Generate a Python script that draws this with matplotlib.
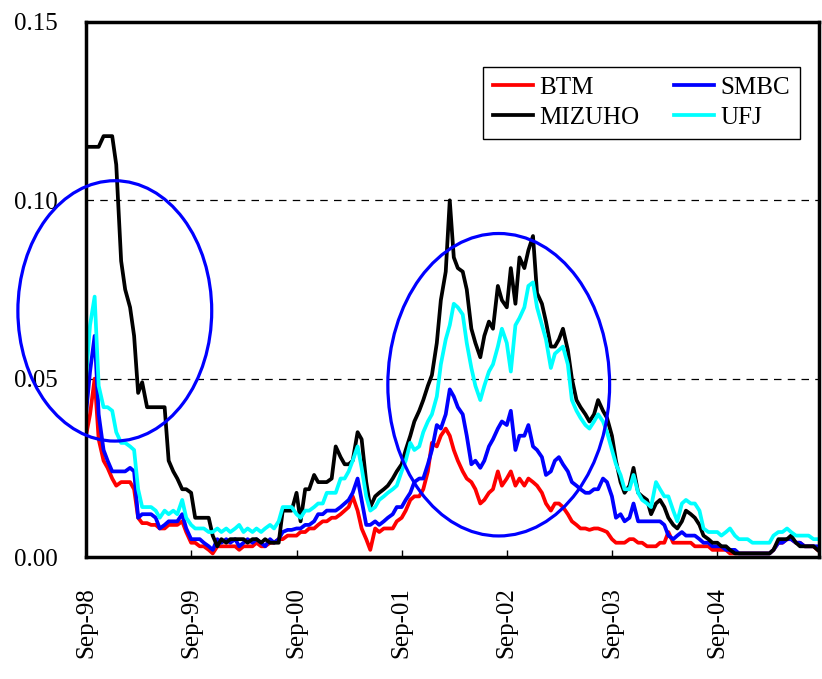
import matplotlib
matplotlib.use('Agg')
import matplotlib.pyplot as plt
import matplotlib.dates as mdates
from matplotlib.patches import Ellipse
import pandas as pd

# ---------------- data (semi-monthly observations, Sep-1998 .. Aug-2005) ----------------
dates = pd.date_range('1998-09-01', periods=168, freq='SMS')

btm = [0.034,0.040,0.050,0.033,0.027,0.025,0.022,0.020,0.021,0.021,
       0.021,0.019,0.011,0.0095,0.0095,0.009,0.009,0.008,0.008,0.009,
       0.009,0.009,0.010,0.007,0.004,0.004,0.003,0.003,0.002,0.001,
       0.003,0.003,0.003,0.003,0.003,0.002,0.003,0.003,0.003,0.004,
       0.003,0.003,0.004,0.004,0.005,0.005,0.006,0.006,0.006,0.007,
       0.007,0.008,0.008,0.009,0.010,0.010,0.011,0.011,0.012,0.013,
       0.014,0.017,0.013,0.008,0.005,0.002,0.008,0.007,0.008,0.008,
       0.008,0.010,0.011,0.013,0.016,0.017,0.017,0.019,0.024,0.032,
       0.031,0.034,0.036,0.034,0.030,0.027,0.024,0.022,0.021,0.019,
       0.015,0.016,0.018,0.019,0.024,0.020,0.022,0.024,0.020,0.022,
       0.020,0.022,0.021,0.020,0.018,0.015,0.013,0.015,0.015,0.014,
       0.012,0.010,0.009,0.008,0.008,0.0076,0.008,0.008,0.0075,0.007,
       0.005,0.004,0.004,0.004,0.005,0.005,0.004,0.004,0.003,0.003,
       0.003,0.004,0.004,0.007,0.004,0.004,0.004,0.004,0.004,0.003,
       0.003,0.003,0.003,0.002,0.002,0.002,0.002,0.001,0.001,0.001,
       0.001,0.001,0.001,0.001,0.001,0.001,0.001,0.002,0.004,0.004,
       0.005,0.005,0.004,0.004,0.003,0.003,0.003,0.002]

smbc = [0.040,0.052,0.062,0.040,0.030,0.027,0.024,0.024,0.024,0.024,
        0.025,0.024,0.011,0.012,0.012,0.012,0.011,0.008,0.009,0.010,
        0.010,0.010,0.012,0.008,0.005,0.005,0.005,0.004,0.003,0.002,
        0.005,0.004,0.005,0.004,0.005,0.003,0.004,0.005,0.004,0.005,
        0.004,0.003,0.005,0.004,0.005,0.007,0.0076,0.0076,0.008,0.008,
        0.009,0.009,0.010,0.012,0.012,0.013,0.013,0.013,0.014,0.015,
        0.016,0.018,0.022,0.016,0.009,0.009,0.010,0.009,0.010,0.011,
        0.012,0.014,0.014,0.016,0.018,0.021,0.022,0.022,0.026,0.030,
        0.037,0.036,0.040,0.047,0.045,0.042,0.040,0.034,0.026,0.027,
        0.025,0.027,0.031,0.033,0.036,0.038,0.037,0.041,0.030,0.034,
        0.034,0.037,0.031,0.030,0.028,0.023,0.024,0.027,0.028,0.026,
        0.024,0.021,0.020,0.019,0.018,0.018,0.019,0.019,0.022,0.021,
        0.017,0.011,0.012,0.010,0.011,0.015,0.010,0.010,0.010,0.010,
        0.010,0.010,0.009,0.006,0.005,0.006,0.007,0.006,0.006,0.006,
        0.005,0.004,0.004,0.003,0.003,0.003,0.002,0.002,0.002,0.001,
        0.001,0.001,0.001,0.001,0.001,0.001,0.001,0.002,0.004,0.004,
        0.005,0.005,0.004,0.004,0.003,0.003,0.003,0.003]

mizuho = [0.115,0.115,0.115,0.115,0.118,0.118,0.118,0.110,0.083,0.075,
          0.070,0.062,0.046,0.049,0.042,0.042,0.042,0.042,0.042,0.027,
          0.024,0.022,0.019,0.019,0.018,0.011,0.011,0.011,0.011,0.006,
          0.003,0.005,0.004,0.005,0.005,0.005,0.005,0.004,0.005,0.005,
          0.004,0.005,0.004,0.004,0.004,0.013,0.013,0.013,0.018,0.010,
          0.019,0.019,0.023,0.021,0.021,0.021,0.022,0.031,0.028,0.026,
          0.026,0.027,0.035,0.033,0.021,0.014,0.017,0.018,0.019,0.020,
          0.022,0.024,0.026,0.030,0.034,0.038,0.041,0.044,0.048,0.051,
          0.060,0.072,0.080,0.100,0.084,0.081,0.080,0.075,0.064,0.060,
          0.056,0.062,0.066,0.064,0.076,0.072,0.070,0.081,0.071,0.084,
          0.081,0.086,0.090,0.074,0.071,0.066,0.059,0.059,0.061,0.064,
          0.058,0.050,0.044,0.042,0.040,0.038,0.040,0.044,0.041,0.039,
          0.034,0.027,0.021,0.018,0.020,0.025,0.018,0.017,0.016,0.012,
          0.015,0.016,0.014,0.011,0.009,0.008,0.010,0.013,0.012,0.011,
          0.009,0.006,0.005,0.004,0.004,0.003,0.003,0.002,0.001,0.001,
          0.001,0.001,0.001,0.001,0.001,0.001,0.001,0.002,0.005,0.005,
          0.005,0.006,0.004,0.003,0.003,0.003,0.003,0.002]

ufj = [0.050,0.065,0.073,0.048,0.042,0.042,0.041,0.035,0.032,0.032,
       0.031,0.030,0.019,0.014,0.014,0.014,0.013,0.011,0.013,0.012,
       0.013,0.012,0.016,0.011,0.009,0.008,0.008,0.008,0.007,0.007,
       0.008,0.007,0.008,0.007,0.008,0.009,0.007,0.008,0.007,0.008,
       0.007,0.008,0.009,0.008,0.010,0.014,0.014,0.014,0.012,0.011,
       0.013,0.013,0.014,0.015,0.015,0.018,0.018,0.018,0.022,0.022,
       0.024,0.027,0.031,0.025,0.017,0.013,0.014,0.016,0.017,0.018,
       0.019,0.020,0.024,0.027,0.032,0.030,0.031,0.035,0.038,0.040,
       0.045,0.054,0.061,0.065,0.071,0.070,0.068,0.060,0.053,0.048,
       0.044,0.048,0.052,0.054,0.059,0.064,0.060,0.052,0.065,0.067,
       0.070,0.076,0.077,0.070,0.065,0.061,0.053,0.057,0.058,0.059,
       0.054,0.044,0.041,0.039,0.037,0.036,0.038,0.040,0.038,0.035,
       0.030,0.026,0.023,0.019,0.019,0.023,0.018,0.016,0.015,0.014,
       0.021,0.019,0.017,0.017,0.013,0.010,0.015,0.016,0.015,0.015,
       0.013,0.008,0.007,0.007,0.007,0.006,0.007,0.008,0.006,0.005,
       0.005,0.005,0.004,0.004,0.004,0.004,0.004,0.006,0.007,0.007,
       0.008,0.007,0.006,0.006,0.006,0.006,0.005,0.005]

series_names = ['BTM', 'SMBC', 'MIZUHO', 'UFJ']
series_values = [btm, smbc, mizuho, ufj]
series_colors = ['#FF0000', '#0000FF', '#000000', '#00FFFF']

tick_dates = ['1998-09-01', '1999-09-01', '2000-09-01', '2001-09-01',
              '2002-09-01', '2003-09-01', '2004-09-01']
tick_labels = ['Sep-98', 'Sep-99', 'Sep-00', 'Sep-01', 'Sep-02', 'Sep-03', 'Sep-04']
y_ticks = [0.00, 0.05, 0.10, 0.15]
y_labels = ['0.00', '0.05', '0.10', '0.15']

# highlighted regions: (centre date, centre value, width in days, height)
ellipses = [('1998-12-10', 0.069, 673, 0.073),
            ('2002-08-04', 0.0483, 770, 0.0848)]

# ---------------- plot ----------------
plt.rcParams['font.family'] = ['Liberation Serif', 'DejaVu Serif']

fig = plt.figure(figsize=(8.22, 6.79), dpi=100)
ax = fig.add_axes([86/822, 1 - 557/679, (819 - 86)/822, (557 - 22)/679])

lines = {}
for name, vals, col in zip(series_names, series_values, series_colors):
    ln, = ax.plot(dates, vals, color=col, lw=2.7, label=name)
    lines[name] = ln

for v in [0.05, 0.10]:
    ax.axhline(v, color='black', lw=0.9, ls=(0, (6, 5)), zorder=0.5)

ax.set_ylim(0, 0.15)
ax.set_xlim(pd.Timestamp('1998-09-01'), pd.Timestamp('2005-08-20'))
ax.set_yticks(y_ticks)
ax.set_yticklabels(y_labels)
ax.set_xticks([pd.Timestamp(d) for d in tick_dates])
ax.set_xticklabels(tick_labels, rotation=90)
ax.tick_params(axis='x', direction='in', length=5, width=1, pad=22, labelsize=18)
ax.tick_params(axis='y', length=0, pad=20, labelsize=18)
for sp in ax.spines.values():
    sp.set_linewidth(2.5)

for c, yc, w, h in ellipses:
    e = Ellipse((mdates.date2num(pd.Timestamp(c)), yc), w, h, fill=False,
                edgecolor='#0000FF', lw=2.3, clip_on=False, zorder=5)
    ax.add_patch(e)

order = ['BTM', 'MIZUHO', 'SMBC', 'UFJ']
leg = ax.legend([lines[n] for n in order], order, ncol=2, loc='lower left',
                bbox_to_anchor=(0.5416, 0.781, 0.4324, 0.148), mode='expand',
                fontsize=18, frameon=True, fancybox=False, framealpha=1,
                edgecolor='black', handlelength=1.6, handletextpad=0.25,
                labelspacing=0.3, borderpad=0.4, columnspacing=0.8,
                borderaxespad=0)
leg.get_frame().set_linewidth(1.0)

fig.savefig('out.png', dpi=100)
